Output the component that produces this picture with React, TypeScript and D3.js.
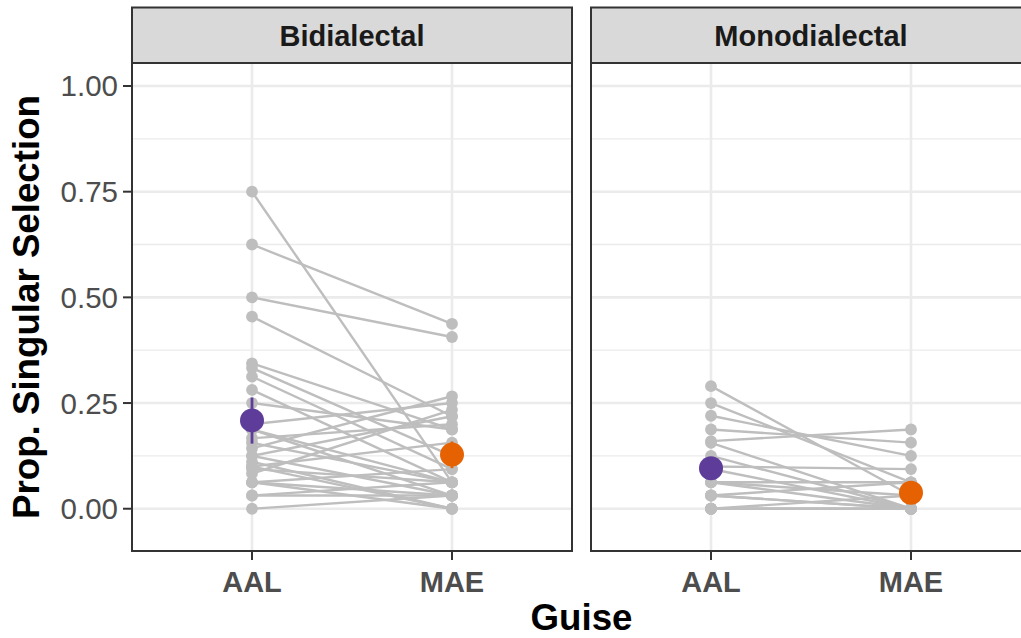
import React from 'react';
import * as d3 from 'd3';

const guises = ['AAL', 'MAE'];
const groups = ['Bidialectal', 'Monodialectal'];

const biAAL = [0.75, 0.625, 0.5, 0.4545, 0.344, 0.333, 0.3125, 0.281, 0.25, 0.2, 0.1875, 0.1667, 0.156, 0.143, 0.125, 0.125, 0.111, 0.1, 0.094, 0.0833, 0.0625, 0.0625, 0.0625, 0.03125, 0.03125, 0, 0.1875, 0.1];
const biMAE = [0.0625, 0.4375, 0.40625, 0.21875, 0.1875, 0.125, 0.09375, 0.0625, 0.1875, 0.25, 0.03125, 0.2, 0.0625, 0.266, 0.03125, 0.21875, 0, 0.15625, 0.0625, 0.234, 0.03125, 0, 0.09375, 0.03125, 0.0625, 0.03125, 0.0625, 0.0];

const monoAAL = [0.29, 0.25, 0.22, 0.1875, 0.16, 0.156, 0.125, 0.1, 0.094, 0.0625, 0.0625, 0.0625, 0.03125, 0.03125, 0.03125, 0, 0, 0, 0];
const monoMAE = [0.03125, 0.0625, 0.125, 0.15625, 0.1875, 0, 0, 0.09375, 0, 0.0625, 0, 0.03125, 0, 0.0625, 0, 0, 0.03125, 0, 0];

const meanAAL = [0.209, 0.096];
const lowAAL = [0.154, 0.076];
const highAAL = [0.263, 0.116];
const meanMAE = [0.128, 0.038];
const lowMAE = [0.096, 0.024];
const highMAE = [0.159, 0.052];

const yTicks = [0, 0.25, 0.5, 0.75, 1];
const yMinor = [0.125, 0.375, 0.625, 0.875];

const guiseColors = ['#5E3C99', '#E66101'];

const W = 1021;
const H = 638;
const panelTop = 63;
const panelBottom = 551;
const stripTop = 7.5;
const panelXs: [number, number][] = [[132, 572], [591, 1031]];
const FONT = '"Liberation Sans", Arial, Helvetica, sans-serif';

export default function App() {
  const y = d3.scaleLinear().domain([-0.1, 1.0544]).range([panelBottom, panelTop]);
  const pairsData = [
    { aal: biAAL, mae: biMAE },
    { aal: monoAAL, mae: monoMAE },
  ];
  const lineGen = d3.line<[number, number]>().x(d => d[0]).y(d => d[1]);

  return (
    <svg width={W} height={H} style={{ position: 'absolute', left: 0, top: 0, background: '#fff' }} fontFamily={FONT}>
      <rect x={0} y={0} width={W} height={H} fill="#fff" />
      {groups.map((g, gi) => {
        const [x0, x1] = panelXs[gi];
        const x = d3.scalePoint<string>().domain(guises).range([x0, x1]).padding(0.6);
        const d = pairsData[gi];
        const means = [meanAAL[gi], meanMAE[gi]];
        const lows = [lowAAL[gi], lowMAE[gi]];
        const highs = [highAAL[gi], highMAE[gi]];
        return (
          <g key={g}>
            <rect x={x0} y={panelTop} width={x1 - x0} height={panelBottom - panelTop} fill="#fff" />
            {yMinor.map(t => (
              <line key={'mi' + t} x1={x0} x2={x1} y1={y(t)} y2={y(t)} stroke="#EBEBEB" strokeWidth={1.3} />
            ))}
            {yTicks.map(t => (
              <line key={'ma' + t} x1={x0} x2={x1} y1={y(t)} y2={y(t)} stroke="#EBEBEB" strokeWidth={2.6} />
            ))}
            {guises.map(gu => (
              <line key={'vx' + gu} x1={x(gu)} x2={x(gu)} y1={panelTop} y2={panelBottom} stroke="#EBEBEB" strokeWidth={2.6} />
            ))}
            {d.aal.map((v, i) => (
              <path key={'l' + i} d={lineGen([[x('AAL')!, y(v)], [x('MAE')!, y(d.mae[i])]]) || ''} stroke="#BEBEBE" strokeWidth={2.4} fill="none" />
            ))}
            {d.aal.map((v, i) => (
              <circle key={'pa' + i} cx={x('AAL')} cy={y(v)} r={5.9} fill="#BEBEBE" />
            ))}
            {d.mae.map((v, i) => (
              <circle key={'pm' + i} cx={x('MAE')} cy={y(v)} r={5.9} fill="#BEBEBE" />
            ))}
            {guises.map((gu, k) => (
              <g key={'m' + gu}>
                <line x1={x(gu)} x2={x(gu)} y1={y(lows[k])} y2={y(highs[k])} stroke={guiseColors[k]} strokeWidth={2.8} />
                <circle cx={x(gu)} cy={y(means[k])} r={12} fill={guiseColors[k]} />
              </g>
            ))}
            <rect x={x0} y={panelTop} width={x1 - x0} height={panelBottom - panelTop} fill="none" stroke="#333333" strokeWidth={2} />
            <rect x={x0} y={stripTop} width={x1 - x0} height={panelTop - stripTop} fill="#D9D9D9" stroke="#333333" strokeWidth={2} />
            <text x={(x0 + x1) / 2} y={(stripTop + panelTop) / 2 + 10.5} textAnchor="middle" fontSize={29} fontWeight="bold" fill="#1A1A1A">{g}</text>
            {guises.map(gu => (
              <g key={'xt' + gu}>
                <line x1={x(gu)} x2={x(gu)} y1={panelBottom} y2={panelBottom + 9} stroke="#333333" strokeWidth={2} />
                <text x={x(gu)} y={592} textAnchor="middle" fontSize={29} fontWeight="bold" fill="#4D4D4D">{gu}</text>
              </g>
            ))}
          </g>
        );
      })}
      {yTicks.map(t => (
        <g key={'yt' + t}>
          <line x1={123} x2={132} y1={y(t)} y2={y(t)} stroke="#333333" strokeWidth={2} />
          <text x={118} y={y(t) + 10.5} textAnchor="end" fontSize={29.5} fill="#4D4D4D">{t.toFixed(2)}</text>
        </g>
      ))}
      <text transform={`translate(38.5, ${(panelTop + panelBottom) / 2}) rotate(-90)`} textAnchor="middle" fontSize={36.7} fontWeight="bold" fill="#000">Prop. Singular Selection</text>
      <text x={(panelXs[0][0] + panelXs[1][1]) / 2} y={630} textAnchor="middle" fontSize={36.7} fontWeight="bold" fill="#000">Guise</text>
    </svg>
  );
}
